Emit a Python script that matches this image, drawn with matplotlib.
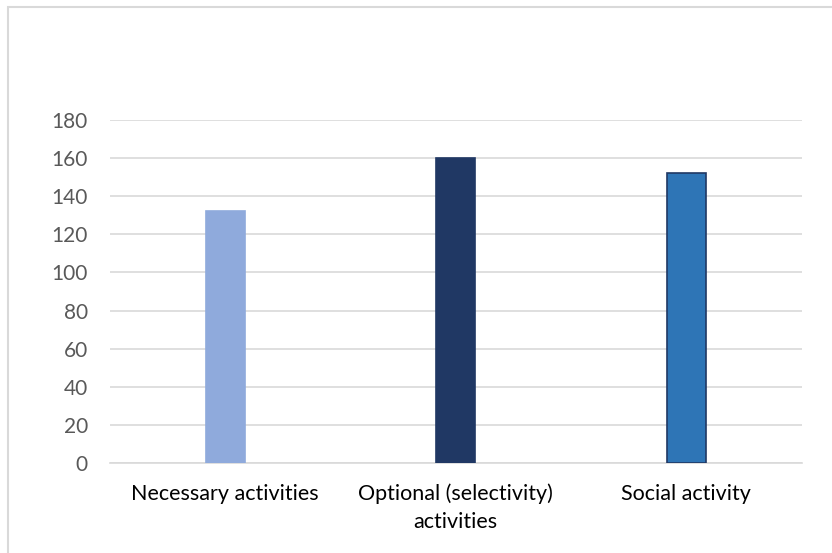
import matplotlib
matplotlib.use("Agg")
import matplotlib.pyplot as plt
from matplotlib.patches import Rectangle

categories = ["Necessary activities", "Optional (selectivity)\nactivities", "Social activity"]
values = [132, 160, 152]
colors = ["#8FAADC", "#203864", "#2E75B6"]
edges = ["#8FAADC", "#203864", "#203864"]
yticks = [0, 20, 40, 60, 80, 100, 120, 140, 160, 180]

W, H = 832, 553
fig = plt.figure(figsize=(W / 100, H / 100), dpi=100)
plt.rcParams['font.family'] = ['Lato', 'DejaVu Sans']

# outer chart border (right and bottom edges run off the image)
fig.patches.append(Rectangle((8 / W, -0.1), 1.2, 1.1 - 7.5 / H, transform=fig.transFigure,
                             fill=False, edgecolor="#D9D9D9", linewidth=1.5))

ax = fig.add_axes([110 / W, 90 / H, (801.5 - 110) / W, 343 / H])
x = range(len(categories))
ax.bar(x, values, width=0.17, color=colors, edgecolor=edges, linewidth=1.2, zorder=3)
ax.set_xlim(-0.5, len(categories) - 0.5)
ax.set_ylim(0, 180)
ax.set_yticks(yticks)
ax.set_yticklabels([str(v) for v in yticks])
ax.set_xticks(list(x))
ax.set_xticklabels(categories, fontsize=15.5, color="#000000", linespacing=1.45)
ax.tick_params(axis='y', labelsize=15, labelcolor="#595959", length=0, pad=16)
ax.tick_params(axis='x', length=0, pad=15)
ax.grid(axis='y', color="#D9D9D9", linewidth=1.2, zorder=0)
for s in ax.spines.values():
    s.set_visible(False)
ax.spines['bottom'].set_visible(True)
ax.spines['bottom'].set_color("#D9D9D9")
ax.spines['bottom'].set_linewidth(1.2)

fig.savefig("out.png", dpi=100)
